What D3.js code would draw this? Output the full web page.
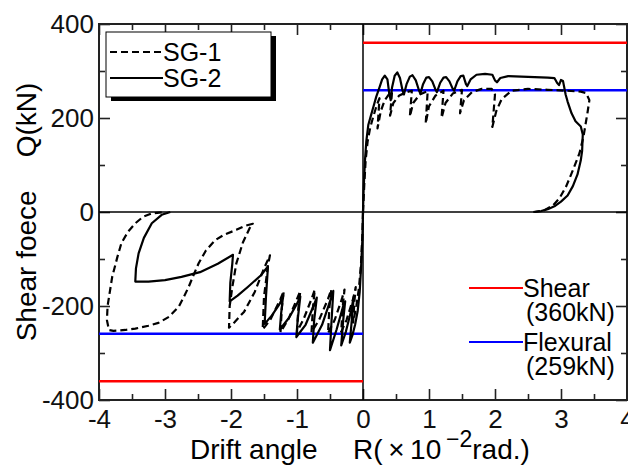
<!DOCTYPE html>
<html>

<head>
  <meta charset="utf-8">
  <title>Shear force - drift angle</title>
  <style>
    body { margin: 0; background: #fff; }
    svg { display: block; font-family: "Liberation Sans", Arial, sans-serif; }
  </style>
</head>

<body>
  <svg id="mySVG"></svg>

  <script src="https://cdnjs.cloudflare.com/ajax/libs/d3/7.8.5/d3.min.js"></script>
  <script>
    /** Series data [R (x10^-2 rad), Q (kN)] */
    const sg1Pos = [[0,0],[0.02,60],[0.04,110],[0.07,150],[0.11,180],[0.16,205],[0.21,228],[0.25,242],[0.22,178],[0.27,215],[0.33,238],[0.4,252],[0.44,256],[0.41,205],[0.46,232],[0.55,248],[0.66,255],[0.74,258],[0.71,203],[0.76,232],[0.86,250],[0.98,257],[0.95,188],[1.0,225],[1.1,248],[1.22,258],[1.19,200],[1.25,232],[1.36,252],[1.5,260],[1.47,210],[1.53,238],[1.65,255],[1.8,262],[1.95,262],[2.0,250],[1.96,181],[2.02,215],[2.1,240],[2.25,258],[2.5,262],[2.8,260],[3.1,258],[3.3,256],[3.38,253],[3.43,238],[3.4,210],[3.34,160],[3.28,125],[3.18,89],[3.08,55],[2.98,30],[2.88,14],[2.75,4],[2.6,0]];
    const sg1Neg = [[0,0],[-0.01,-50],[-0.03,-110],[-0.06,-160],[-0.1,-200],[-0.15,-235],[-0.13,-190],[-0.11,-160],[-0.15,-185],[-0.25,-230],[-0.33,-255],[-0.31,-205],[-0.28,-165],[-0.32,-185],[-0.43,-230],[-0.53,-258],[-0.51,-205],[-0.48,-165],[-0.53,-185],[-0.66,-228],[-0.78,-256],[-0.76,-205],[-0.73,-165],[-0.78,-185],[-0.9,-228],[-1.0,-255],[-0.98,-205],[-0.95,-168],[-1.0,-185],[-1.13,-228],[-1.25,-256],[-1.23,-205],[-1.2,-168],[-1.25,-185],[-1.4,-228],[-1.52,-250],[-1.5,-180],[-1.44,-114],[-1.41,-92],[-1.5,-120],[-1.64,-170],[-1.8,-212],[-1.95,-235],[-2.03,-246],[-2.02,-200],[-1.98,-160],[-1.92,-110],[-1.82,-65],[-1.72,-35],[-1.67,-25],[-1.8,-30],[-1.92,-38],[-2.1,-48],[-2.24,-60],[-2.38,-82],[-2.49,-109],[-2.57,-135],[-2.64,-159],[-2.72,-182],[-2.79,-201],[-2.94,-223],[-3.1,-236],[-3.25,-242],[-3.45,-248],[-3.6,-251],[-3.78,-253],[-3.85,-251],[-3.88,-230],[-3.87,-200],[-3.8,-138],[-3.72,-95],[-3.66,-66],[-3.56,-42],[-3.45,-24],[-3.33,-10],[-3.2,-3],[-3.0,0]];
    const sg2Pos = [[0,0],[0.01,50],[0.03,110],[0.05,150],[0.08,185],[0.12,205],[0.16,225],[0.2,245],[0.25,265],[0.29,282],[0.33,290],[0.37,282],[0.4,250],[0.42,238],[0.44,265],[0.48,290],[0.52,297],[0.56,285],[0.6,258],[0.62,250],[0.66,272],[0.71,288],[0.75,291],[0.8,280],[0.85,258],[0.87,252],[0.91,272],[0.96,286],[1.0,287],[1.05,278],[1.1,260],[1.12,255],[1.17,275],[1.22,286],[1.26,287],[1.31,278],[1.36,262],[1.38,258],[1.43,278],[1.48,289],[1.52,290],[1.56,272],[1.58,268],[1.63,282],[1.72,292],[1.85,294],[1.96,292],[2.0,280],[2.03,276],[2.08,285],[2.2,289],[2.4,288],[2.6,287],[2.8,286],[2.9,285],[2.94,275],[2.97,270],[3.0,281],[3.03,279],[3.07,250],[3.1,235],[3.16,210],[3.22,193],[3.3,182],[3.33,165],[3.32,130],[3.3,110],[3.25,80],[3.18,55],[3.1,35],[3.0,22],[2.9,12],[2.8,6],[2.7,2],[2.58,0]];
    const sg2Neg = [[0,0],[-0.01,-60],[-0.03,-120],[-0.05,-170],[-0.08,-210],[-0.12,-240],[-0.16,-262],[-0.2,-278],[-0.17,-230],[-0.14,-180],[-0.18,-210],[-0.26,-255],[-0.33,-284],[-0.3,-230],[-0.27,-190],[-0.3,-200],[-0.4,-250],[-0.5,-294],[-0.48,-240],[-0.45,-168],[-0.5,-190],[-0.62,-240],[-0.76,-278],[-0.74,-230],[-0.7,-182],[-0.75,-200],[-0.87,-240],[-1.01,-266],[-0.99,-230],[-0.95,-180],[-1.0,-195],[-1.12,-225],[-1.26,-250],[-1.24,-215],[-1.21,-178],[-1.26,-195],[-1.38,-220],[-1.49,-238],[-1.47,-180],[-1.44,-116],[-1.55,-135],[-1.75,-160],[-1.9,-178],[-2.02,-190],[-2.01,-150],[-1.98,-110],[-1.97,-91],[-2.2,-110],[-2.47,-128],[-2.75,-138],[-3.0,-145],[-3.25,-148],[-3.45,-148],[-3.44,-120],[-3.4,-88],[-3.32,-55],[-3.2,-24],[-3.05,-6],[-2.92,0]];

    /** Capacity lines (kN) */
    const shearCap = 360;
    const flexCap = 259;

    /** Axis ticks */
    const xTicks = [-4, -3, -2, -1, 0, 1, 2, 3, 4];
    const xMinor = [-3.5, -2.5, -1.5, -0.5, 0.5, 1.5, 2.5, 3.5];
    const yTicks = [-400, -200, 0, 200, 400];
    const yMinor = [-300, -100, 100, 300];

    const width = 628, height = 466;
    const margin = { left: 99, right: 627, top: 24, bottom: 400 };

    const svg = d3.select("#mySVG")
      .attr("width", width)
      .attr("height", height)
      .attr("viewBox", [0, 0, width, height]);

    const x = d3.scaleLinear().domain([-4, 4]).range([margin.left, margin.right]);
    const y = d3.scaleLinear().domain([-400, 400]).range([margin.bottom, margin.top]);

    const ink = "#222";
    const plain = d => String(d); // hyphen minus, as in the original

    /** axes: inward ticks on all four sides */
    function styleAxis(g) {
      g.select(".domain").remove();
      g.selectAll(".tick line").attr("stroke", ink).attr("stroke-width", 1.6);
      g.selectAll(".tick text").attr("fill", "#111").attr("font-size", 26)
        .attr("font-family", "Liberation Sans, Arial, sans-serif");
    }

    svg.append("g").attr("transform", `translate(0,${margin.bottom})`)
      .call(d3.axisBottom(x).tickValues(xTicks).tickSize(-11).tickPadding(10).tickFormat(plain))
      .call(styleAxis);
    svg.append("g").attr("transform", `translate(0,${margin.bottom})`)
      .call(d3.axisBottom(x).tickValues(xMinor).tickSize(-6).tickFormat(""))
      .call(styleAxis);
    svg.append("g").attr("transform", `translate(0,${margin.top})`)
      .call(d3.axisTop(x).tickValues(xTicks).tickSize(-11).tickFormat(""))
      .call(styleAxis);
    svg.append("g").attr("transform", `translate(0,${margin.top})`)
      .call(d3.axisTop(x).tickValues(xMinor).tickSize(-6).tickFormat(""))
      .call(styleAxis);
    svg.append("g").attr("transform", `translate(${margin.left},0)`)
      .call(d3.axisLeft(y).tickValues(yTicks).tickSize(-11).tickPadding(5).tickFormat(plain))
      .call(styleAxis);
    svg.append("g").attr("transform", `translate(${margin.left},0)`)
      .call(d3.axisLeft(y).tickValues(yMinor).tickSize(-6).tickFormat(""))
      .call(styleAxis);
    svg.append("g").attr("transform", `translate(${margin.right},0)`)
      .call(d3.axisRight(y).tickValues(yTicks).tickSize(-11).tickFormat(""))
      .call(styleAxis);
    svg.append("g").attr("transform", `translate(${margin.right},0)`)
      .call(d3.axisRight(y).tickValues(yMinor).tickSize(-6).tickFormat(""))
      .call(styleAxis);

    /** frame */
    svg.append("rect")
      .attr("x", margin.left).attr("y", margin.top)
      .attr("width", margin.right - margin.left).attr("height", margin.bottom - margin.top)
      .attr("fill", "none").attr("stroke", ink).attr("stroke-width", 2);

    /** zero lines */
    svg.append("line")
      .attr("x1", x(-4)).attr("x2", x(4)).attr("y1", y(0)).attr("y2", y(0))
      .attr("stroke", "#000").attr("stroke-width", 1.5);
    svg.append("line")
      .attr("x1", x(0)).attr("x2", x(0)).attr("y1", y(400)).attr("y2", y(-400))
      .attr("stroke", "#000").attr("stroke-width", 1.5);

    /** capacity lines */
    const caps = [
      { v: shearCap, c: "#ff0000" },
      { v: flexCap, c: "#0000ff" }
    ];
    caps.forEach(d => {
      svg.append("line")
        .attr("x1", x(0)).attr("x2", x(4)).attr("y1", y(d.v)).attr("y2", y(d.v))
        .attr("stroke", d.c).attr("stroke-width", 2.5);
      svg.append("line")
        .attr("x1", x(-4)).attr("x2", x(0)).attr("y1", y(-d.v)).attr("y2", y(-d.v))
        .attr("stroke", d.c).attr("stroke-width", 2.5);
    });

    /** hysteresis curves */
    const line = d3.line().x(d => x(d[0])).y(d => y(d[1]));
    const curves = [
      { data: sg1Pos, dash: "7,4" },
      { data: sg1Neg, dash: "7,4" },
      { data: sg2Pos, dash: null },
      { data: sg2Neg, dash: null }
    ];
    svg.append("g")
      .selectAll("path")
      .data(curves)
      .join("path")
      .attr("d", d => line(d.data))
      .attr("fill", "none")
      .attr("stroke", "#000")
      .attr("stroke-width", 2.2)
      .attr("stroke-linejoin", "round")
      .attr("stroke-dasharray", d => d.dash);

    /** series legend with drop shadow */
    const lg = svg.append("g");
    lg.append("rect").attr("x", 111).attr("y", 36).attr("width", 165).attr("height", 65).attr("fill", "#000");
    lg.append("rect").attr("x", 106).attr("y", 32).attr("width", 165).attr("height", 65)
      .attr("fill", "#fff").attr("stroke", "#000").attr("stroke-width", 1);
    const legendItems = [
      { label: "SG-1", dash: "7,4", y: 52 },
      { label: "SG-2", dash: null, y: 78 }
    ];
    legendItems.forEach(d => {
      lg.append("line").attr("x1", 110).attr("x2", 163).attr("y1", d.y).attr("y2", d.y)
        .attr("stroke", "#000").attr("stroke-width", 2).attr("stroke-dasharray", d.dash);
      lg.append("text").attr("x", 163).attr("y", d.y + 9).attr("font-size", 25).text(d.label);
    });

    /** capacity legend: one text per entry, two lines */
    const capLegend = [
      { c: "#ff0000", name: "Shear", value: "(360kN)", y: 288 },
      { c: "#0000ff", name: "Flexural", value: "(259kN)", y: 342 }
    ];
    capLegend.forEach(d => {
      svg.append("line").attr("x1", 469).attr("x2", 523).attr("y1", d.y).attr("y2", d.y)
        .attr("stroke", d.c).attr("stroke-width", 2);
      const t = svg.append("text").attr("font-size", 25);
      t.append("tspan").attr("x", 523).attr("y", d.y + 9).text(d.name);
      t.append("tspan").attr("x", 526).attr("y", d.y + 33).text(d.value);
    });

    /** axis titles */
    const xt = svg.append("text").attr("y", 459).attr("font-size", 28);
    xt.append("tspan").attr("x", 190).text("Drift angle");
    xt.append("tspan").attr("x", 353).text("R(\u2009\u00d7\u200910");
    xt.append("tspan").attr("x", 446).attr("y", 447).attr("font-size", 23).text("\u22122");
    xt.append("tspan").attr("y", 459).text("rad.)");

    const yt = svg.append("text")
      .attr("transform", `translate(36,${y(0)}) rotate(-90)`)
      .attr("text-anchor", "middle")
      .attr("font-size", 28);
    yt.append("tspan").text("Shear foece");
    yt.append("tspan").attr("dx", 33).text("Q(kN)");
  </script>
</body>
</html>
